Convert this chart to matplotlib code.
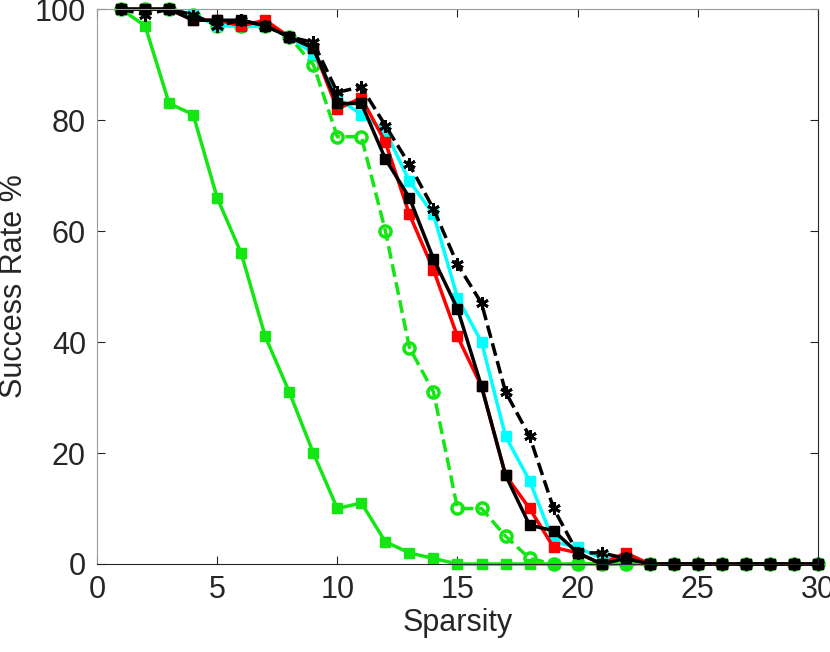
import matplotlib
matplotlib.use("Agg")
import matplotlib.pyplot as plt

plt.rcParams["font.family"] = ["Liberation Sans", "DejaVu Sans"]

sparsity = list(range(1, 31))

# success rates (%) per method
green_sq = [100, 97, 83, 81, 66, 56, 41, 31, 20, 10, 11, 4, 2, 1, 0,
            0, 0, 0, 0, 0, 0, 0, 0, 0, 0, 0, 0, 0, 0, 0]
green_circ = [100, 100, 100, 99, 97, 97, 97, 95, 90, 77, 77, 60, 39, 31, 10,
              10, 5, 1, 0, 0, 0, 0, 0, 0, 0, 0, 0, 0, 0, 0]
cyan_sq = [100, 100, 100, 99, 97, 97, 97, 95, 92, 84, 81, 78, 69, 63, 48,
           40, 23, 15, 4, 3, 1, 1, 0, 0, 0, 0, 0, 0, 0, 0]
red_sq = [100, 100, 100, 98, 98, 97, 98, 95, 93, 82, 84, 76, 63, 53, 41,
          32, 16, 10, 3, 2, 0, 2, 0, 0, 0, 0, 0, 0, 0, 0]
black_star = [100, 99, 100, 99, 97, 98, 97, 95, 94, 85, 86, 79, 72, 64, 54,
              47, 31, 23, 10, 2, 2, 1, 0, 0, 0, 0, 0, 0, 0, 0]
black_sq = [100, 100, 100, 98, 98, 98, 97, 95, 93, 83, 83, 73, 66, 55, 46,
            32, 16, 7, 6, 2, 0, 1, 0, 0, 0, 0, 0, 0, 0, 0]

green = "#14e614"
text_col = "#262626"

fig = plt.figure(figsize=(8.3, 6.52), dpi=100)
ax = fig.add_axes([0.1169, 0.135, 0.8686, 0.851])

ax.plot(sparsity, green_sq, "-s", color=green, lw=2.5, ms=7, clip_on=False)
ax.plot(sparsity, green_circ, "--o", color=green, lw=2.5, ms=8,
        mfc="none", mew=2.5, clip_on=False)
ax.plot(sparsity, cyan_sq, "-s", color="#00ffff", lw=2.5, ms=7, clip_on=False)
ax.plot(sparsity, red_sq, "-s", color="#ff0000", lw=2.5, ms=7, clip_on=False)
# asterisk-like marker (three crossing strokes)
ax.plot(sparsity, black_star, "--", color="black", lw=2.5,
        marker=(6, 2, 0), ms=9, mew=2, clip_on=False)
ax.plot(sparsity, black_sq, "-s", color="black", lw=2.5, ms=7, clip_on=False)

ax.set_xlim(0, 30)
ax.set_ylim(0, 100)
ax.set_xticks(range(0, 31, 5))
ax.set_yticks(range(0, 101, 20))

ax.tick_params(direction="in", top=True, right=True, labelsize=22,
               colors=text_col, length=6, width=0.8, pad=8)
for side in ["left", "top"]:
    ax.spines[side].set_color("#999999")
for side in ["bottom", "right"]:
    ax.spines[side].set_color(text_col)

ax.set_xlabel("Sparsity", fontsize=22, color=text_col, labelpad=2)
ax.set_ylabel("Success Rate %", fontsize=22, color=text_col, labelpad=4)

fig.savefig("out.png", dpi=100)
